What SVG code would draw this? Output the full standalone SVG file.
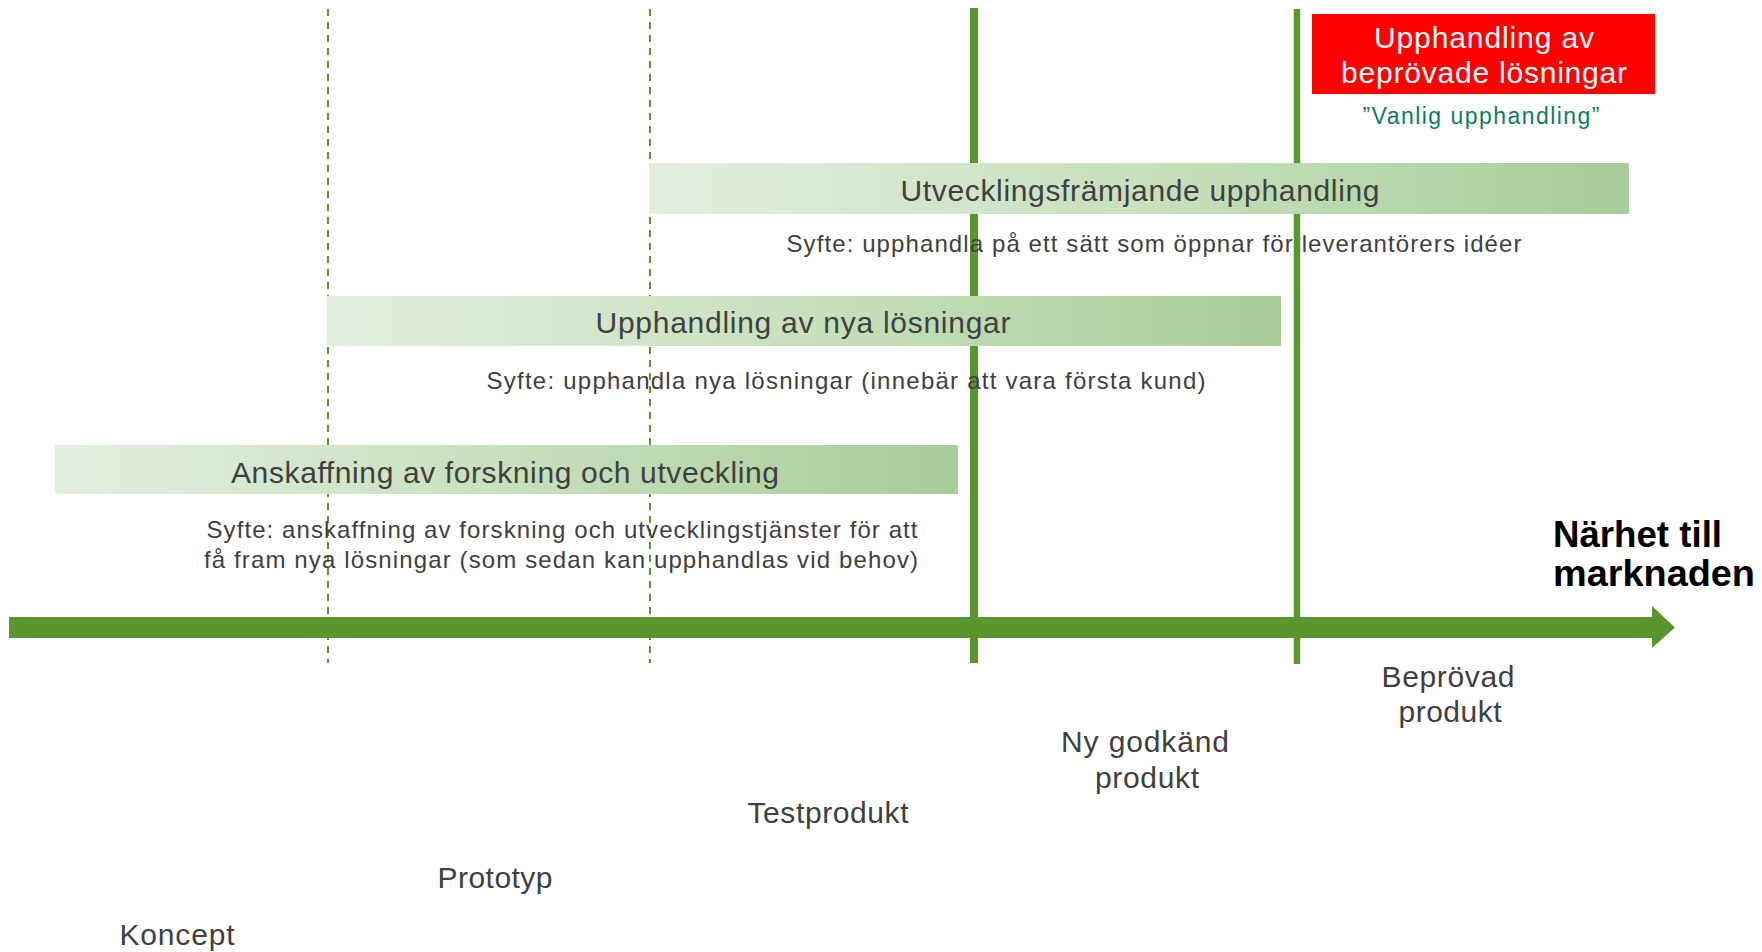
<svg xmlns="http://www.w3.org/2000/svg" width="1762" height="952" viewBox="0 0 1762 952">
  <style>
    .t { font-family: "Liberation Sans", Arial, sans-serif; fill: #404040; }
    .title { font-size: 30px; text-anchor: middle; }
    .desc { font-size: 24px; text-anchor: middle; }
    .stage { font-size: 30px; text-anchor: middle; }
    .red { font-family: "Liberation Sans", Arial, sans-serif; fill: #ffffff; font-size: 30px; text-anchor: middle; }
    .teal { font-family: "Liberation Sans", Arial, sans-serif; fill: #0e7a6c; font-size: 23px; text-anchor: middle; }
    .market { font-family: "Liberation Sans", Arial, sans-serif; fill: #000000; font-size: 37px; font-weight: bold; }
    .bar { fill: url(#barGrad); }
    .dash { stroke: #5a962e; stroke-width: 2; stroke-dasharray: 7 6; fill: none; }
    .solid { stroke: #5a962e; fill: none; }
  </style>
  <defs>
    <linearGradient id="barGrad" x1="0" y1="0" x2="1" y2="0">
      <stop offset="0" stop-color="#e3eee0"/>
      <stop offset="0.5" stop-color="#c7e0bd"/>
      <stop offset="1" stop-color="#a8cd98"/>
    </linearGradient>
  </defs>
  <rect width="1762" height="952" fill="#ffffff"/>

  <g id="connectors">
    <line class="dash" x1="328" y1="9" x2="328" y2="663"/>
    <line class="dash" x1="650" y1="9" x2="650" y2="663"/>
    <path id="axis" d="M9 617 H1652 V606 L1675 627.5 L1652 648 V638 H9 Z" fill="#5a962e"/>
    <line class="solid" x1="974" y1="8" x2="974" y2="663" stroke-width="8"/>
    <line class="solid" x1="1297" y1="9" x2="1297" y2="664" stroke-width="6.5"/>
  </g>

  <g id="node-bevisade">
    <rect x="1312" y="14" width="343" height="80" fill="#ff0000"/>
    <text class="red" x="1484" y="48" textLength="220">Upphandling  av</text>
    <text class="red" x="1484" y="83" textLength="286">beprövade lösningar</text>
    <text class="teal" x="1481" y="124" textLength="237">”Vanlig upphandling”</text>
  </g>

  <g id="node-utvecklingsframjande">
    <rect class="bar" x="649" y="163" width="980" height="51"/>
    <text class="t title" x="1140" y="201" textLength="479">Utvecklingsfrämjande  upphandling</text>
    <text class="t desc" x="1154" y="252" textLength="735">Syfte: upphandla  på ett sätt som öppnar  för leverantörers  idéer</text>
  </g>

  <g id="node-nya-losningar">
    <rect class="bar" x="327" y="296" width="954" height="50"/>
    <text class="t title" x="803" y="333" textLength="415">Upphandling  av nya lösningar</text>
    <text class="t desc" x="846" y="389" textLength="719">Syfte: upphandla  nya lösningar  (innebär att vara första kund)</text>
  </g>

  <g id="node-anskaffning">
    <rect class="bar" x="55" y="445" width="903" height="49"/>
    <text class="t title" x="505" y="483" textLength="548">Anskaffning  av forskning och utveckling</text>
    <text class="t desc" x="562" y="538" textLength="711">Syfte: anskaffning  av forskning  och utvecklingstjänster  för att</text>
    <text class="t desc" x="561" y="568" textLength="714">få fram  nya lösningar (som sedan kan upphandlas  vid behov)</text>
  </g>

  <g id="node-narhet">
    <text class="market" x="1553" y="547" textLength="169" lengthAdjust="spacingAndGlyphs">Närhet till</text>
    <text class="market" x="1553" y="586" textLength="202" lengthAdjust="spacingAndGlyphs">marknaden</text>
  </g>

  <g id="node-koncept">
    <text class="t stage" x="177" y="945" textLength="115">Koncept</text>
  </g>
  <g id="node-prototyp">
    <text class="t stage" x="495" y="888" textLength="115">Prototyp</text>
  </g>
  <g id="node-testprodukt">
    <text class="t stage" x="828" y="823" textLength="161">Testprodukt</text>
  </g>
  <g id="node-ny-godkand">
    <text class="t stage" x="1145" y="752" textLength="168">Ny godkänd</text>
    <text class="t stage" x="1147" y="788" textLength="104">produkt</text>
  </g>
  <g id="node-beprovad">
    <text class="t stage" x="1448" y="687" textLength="133">Beprövad</text>
    <text class="t stage" x="1450" y="722" textLength="103">produkt</text>
  </g>
</svg>
